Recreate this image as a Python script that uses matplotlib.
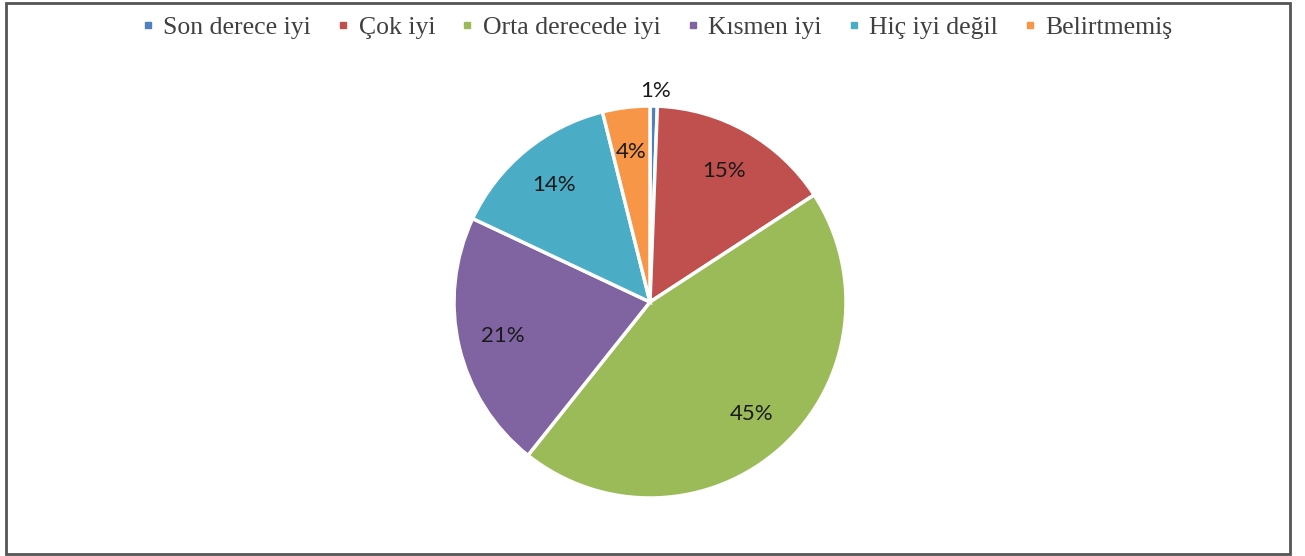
import matplotlib
matplotlib.use("Agg")
import matplotlib.pyplot as plt
from matplotlib.patches import Rectangle
from matplotlib.lines import Line2D

categories = ["Son derece iyi", "Çok iyi", "Orta derecede iyi", "Kısmen iyi", "Hiç iyi değil", "Belirtmemiş"]
values = [0.6, 15.2, 44.9, 21.3, 14.1, 3.9]
colors = ["#4F81BD", "#C0504D", "#9BBB59", "#8064A2", "#4BACC6", "#F79646"]

W, H = 1305, 556
fig = plt.figure(figsize=(W / 100, H / 100), dpi=100)
fig.patch.set_facecolor("white")

# pie centre and radius in pixels
cx, cy, R = 650, 302, 196
ax = fig.add_axes([(cx - R) / W, (H - cy - R) / H, 2 * R / W, 2 * R / H])
wedges, texts, autotexts = ax.pie(
    values, colors=colors, startangle=90, counterclock=False,
    autopct="%.0f%%", pctdistance=0.77, radius=1.0,
    wedgeprops=dict(edgecolor="white", linewidth=2.5),
    textprops=dict(fontsize=16, color="#1a1a1a", family="Lato"),
)
# the small slice has its label pulled outside
autotexts[0].set_position((0.03, 1.075))
ax.set_xlim(-1, 1)
ax.set_ylim(-1, 1)
ax.set_aspect("equal")
ax.axis("off")

handles = [Line2D([], [], marker="s", linestyle="none", markersize=5,
                  markerfacecolor=c, markeredgecolor=c) for c in colors]
leg = fig.legend(handles, categories, loc="center", bbox_to_anchor=(0.503, 1 - 28 / H),
                 ncol=6, frameon=False, handletextpad=0.3, columnspacing=0.95,
                 handlelength=0.6, prop=dict(family="Liberation Serif", size=18.5))
for t in leg.get_texts():
    t.set_color("#404040")

fig.add_artist(Rectangle((6 / W, 2 / H), (1290 - 6) / W, (H - 3) / H - 2 / H,
                         transform=fig.transFigure, fill=False,
                         edgecolor="#555555", linewidth=2))

fig.savefig("out.png", dpi=100)
